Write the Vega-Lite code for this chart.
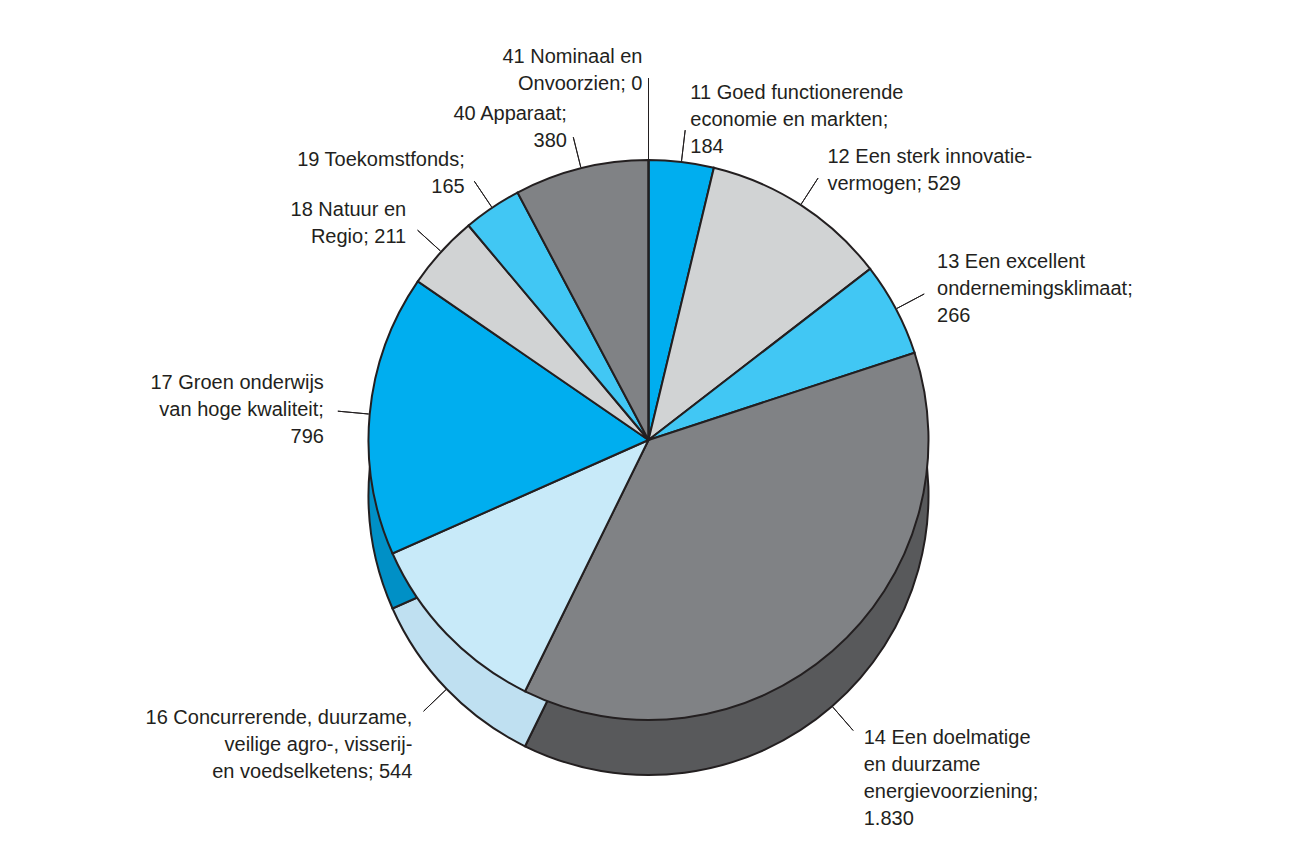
{
  "$schema": "https://vega.github.io/schema/vega-lite/v6.json",
  "autosize": {"type": "fit", "contains": "padding"},
  "width": 1297,
  "height": 850,
  "background": "white",
  "config": {"view": {"stroke": null}, "text": {"font": "Liberation Sans", "fontSize": 20, "lineHeight": 27, "color": "#231F20", "baseline": "middle", "lineBreak": "\n"}},
  "data": {"values": [
    {"id": 11, "value": 184, "label": "11 Goed functionerende\neconomie en markten;\n184"},
    {"id": 12, "value": 529, "label": "12 Een sterk innovatie-\nvermogen; 529"},
    {"id": 13, "value": 266, "label": "13 Een excellent\nondernemingsklimaat;\n266"},
    {"id": 14, "value": 1830, "label": "14 Een doelmatige\nen duurzame\nenergievoorziening;\n1.830"},
    {"id": 16, "value": 544, "label": "16 Concurrerende, duurzame,\nveilige agro-, visserij-\nen voedselketens; 544"},
    {"id": 17, "value": 796, "label": "17 Groen onderwijs\nvan hoge kwaliteit;\n796"},
    {"id": 18, "value": 211, "label": "18 Natuur en\nRegio; 211"},
    {"id": 19, "value": 165, "label": "19 Toekomstfonds;\n165"},
    {"id": 40, "value": 380, "label": "40 Apparaat;\n380"},
    {"id": 41, "value": 0, "label": "41 Nominaal en\nOnvoorzien; 0"}
  ]},
  "transform": [
    {"window": [{"op": "sum", "field": "value", "as": "end"}], "sort": [{"field": "id", "order": "ascending"}], "frame": [null, 0]},
    {"joinaggregate": [{"op": "sum", "field": "value", "as": "total"}]},
    {"calculate": "datum.end - datum.value", "as": "start"},
    {"calculate": "datum.end - datum.value / 2", "as": "mid"},
    {"calculate": "datum.mid / datum.total", "as": "frac"},
    {"calculate": "length(split(datum.label, '\\n'))", "as": "nlines"}
  ],
  "resolve": {"scale": {"color": "independent"}},
  "layer": [
    {
      "mark": {"type": "arc", "radius": 280, "yOffset": 70, "stroke": "#231F20", "strokeWidth": 2},
      "encoding": {
        "theta": {"field": "start", "type": "quantitative", "stack": null},
        "theta2": {"field": "end"},
        "color": {"field": "id", "type": "nominal", "legend": null,
          "scale": {"domain": [11, 12, 13, 14, 16, 17, 18, 19, 40, 41],
                    "range": ["#0090C6", "#AEB0B2", "#33A7CF", "#58595B", "#BFE0F1", "#0090C6", "#AEB0B2", "#33A7CF", "#58595B", "#58595B"]}}
      }
    },
    {
      "mark": {"type": "arc", "radius": 280, "yOffset": 15, "stroke": "#231F20", "strokeWidth": 2},
      "encoding": {
        "theta": {"field": "start", "type": "quantitative", "stack": null},
        "theta2": {"field": "end"},
        "color": {"field": "id", "type": "nominal", "legend": null,
          "scale": {"domain": [11, 12, 13, 14, 16, 17, 18, 19, 40, 41],
                    "range": ["#00AEEF", "#D1D3D4", "#41C7F4", "#808285", "#C8EAF9", "#00AEEF", "#D1D3D4", "#41C7F4", "#808285", "#808285"]}}
      }
    },
    {
      "transform": [{"filter": "datum.value > 0 && (datum.frac < 0.25 || datum.frac >= 0.75)"}],
      "mark": {"type": "arc", "radius": 312, "radius2": 281, "yOffset": 15, "stroke": "#231F20", "strokeWidth": 1, "fill": "transparent"},
      "encoding": {
        "theta": {"field": "mid", "type": "quantitative", "stack": null},
        "theta2": {"field": "mid"}
      }
    },
    {
      "transform": [{"filter": "datum.frac >= 0.25 && datum.frac < 0.75"}],
      "mark": {"type": "arc", "radius": 312, "radius2": 281, "yOffset": 70, "stroke": "#231F20", "strokeWidth": 1, "fill": "transparent"},
      "encoding": {
        "theta": {"field": "mid", "type": "quantitative", "stack": null},
        "theta2": {"field": "mid"}
      }
    },
    {
      "transform": [{"filter": "datum.value == 0"}],
      "mark": {"type": "arc", "radius": 362, "radius2": 281, "yOffset": 15, "stroke": "#231F20", "strokeWidth": 1, "fill": "transparent"},
      "encoding": {
        "theta": {"field": "mid", "type": "quantitative", "stack": null},
        "theta2": {"field": "mid"}
      }
    },
    {
      "transform": [{"filter": "datum.frac < 0.25 && datum.nlines == 3"}],
      "mark": {"type": "text", "radius": 322, "yOffset": 15, "align": "left", "dx": 4, "dy": -27},
      "encoding": {
        "theta": {"field": "mid", "type": "quantitative", "stack": null},
        "text": {"field": "label"}
      }
    },
    {
      "transform": [{"filter": "datum.frac < 0.25 && datum.nlines == 2"}],
      "mark": {"type": "text", "radius": 322, "yOffset": 15, "align": "left", "dx": 4, "dy": -13},
      "encoding": {
        "theta": {"field": "mid", "type": "quantitative", "stack": null},
        "text": {"field": "label"}
      }
    },
    {
      "transform": [{"filter": "datum.frac >= 0.25 && datum.frac < 0.5"}],
      "mark": {"type": "text", "radius": 322, "yOffset": 70, "align": "left", "dx": 4},
      "encoding": {
        "theta": {"field": "mid", "type": "quantitative", "stack": null},
        "text": {"field": "label"}
      }
    },
    {
      "transform": [{"filter": "datum.frac >= 0.5 && datum.frac < 0.75"}],
      "mark": {"type": "text", "radius": 322, "yOffset": 70, "align": "right", "dx": -4},
      "encoding": {
        "theta": {"field": "mid", "type": "quantitative", "stack": null},
        "text": {"field": "label"}
      }
    },
    {
      "transform": [{"filter": "datum.frac >= 0.75 && datum.value > 0 && datum.nlines == 3"}],
      "mark": {"type": "text", "radius": 322, "yOffset": 15, "align": "right", "dx": -4, "dy": -27},
      "encoding": {
        "theta": {"field": "mid", "type": "quantitative", "stack": null},
        "text": {"field": "label"}
      }
    },
    {
      "transform": [{"filter": "datum.frac >= 0.75 && datum.value > 0 && datum.nlines == 2"}],
      "mark": {"type": "text", "radius": 322, "yOffset": 15, "align": "right", "dx": -4, "dy": -13},
      "encoding": {
        "theta": {"field": "mid", "type": "quantitative", "stack": null},
        "text": {"field": "label"}
      }
    },
    {
      "transform": [{"filter": "datum.value == 0"}],
      "mark": {"type": "text", "radius": 370, "yOffset": 15, "align": "right", "dx": -6, "dy": -13},
      "encoding": {
        "theta": {"field": "mid", "type": "quantitative", "stack": null},
        "text": {"field": "label"}
      }
    }
  ]
}
